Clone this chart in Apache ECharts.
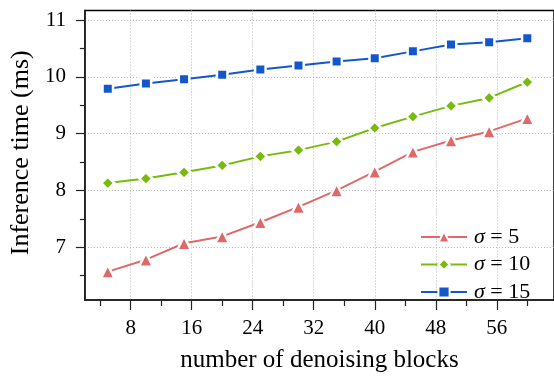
<!DOCTYPE html>
<html>
<head>
<meta charset="utf-8">
<script src="https://cdn.jsdelivr.net/npm/echarts@6/dist/echarts.min.js"></script>
<style>
html,body{margin:0;padding:0;background:#fff;}
#c{width:554px;height:378px;}
</style>
</head>
<body>
<div id="c"></div>
<script>
const blocks = [5, 10, 15, 20, 25, 30, 35, 40, 45, 50, 55, 60];
const sigma5 = [6.57, 6.78, 7.07, 7.19, 7.44, 7.71, 8.00, 8.33, 8.68, 8.88, 9.04, 9.27];
const sigma10 = [8.13, 8.21, 8.32, 8.44, 8.60, 8.71, 8.86, 9.10, 9.30, 9.49, 9.63, 9.91];
const sigma15 = [9.79, 9.885, 9.96, 10.04, 10.13, 10.20, 10.27, 10.33, 10.45, 10.57, 10.61, 10.68];
const seriesNames = ['σ = 5', 'σ = 10', 'σ = 15'];
const xMajor = [8, 16, 24, 32, 40, 48, 56];
const xMinor = [4, 12, 20, 28, 36, 44, 52, 60];
const yMajor = [7, 8, 9, 10, 11];
const yMinor = [6.5, 7.5, 8.5, 9.5, 10.5];

const FONT = '"Liberation Serif", "DejaVu Serif", serif';
const colors = ['#e06868', '#78bb0e', '#1257cc'];
const symbols = ['triangle', 'diamond', 'rect'];
const sizes = [14, 13, 10.5];
const dataSets = [sigma5, sigma10, sigma15];

const XMIN = 2, XMAX = 63.5, YMIN = 6.07, YMAX = 11.17;

const chart = echarts.init(document.getElementById('c'), null, {renderer: 'canvas'});
chart.setOption({
  animation: false,
  grid: {left: 84, right: -2, top: 10.5, bottom: 73, show: true, borderColor: '#000', borderWidth: 1.5, backgroundColor: 'transparent'},
  xAxis: [{
    type: 'value', min: XMIN, max: XMAX, position: 'bottom',
    name: 'number of denoising blocks', nameLocation: 'middle', nameGap: 48,
    nameTextStyle: {fontFamily: FONT, fontSize: 25, color: '#000'},
    axisLine: {show: true, onZero: false, lineStyle: {color: '#222', width: 1.5}},
    axisTick: {show: true, customValues: xMajor, length: 10, lineStyle: {color: '#222', width: 1.2}},
    axisLabel: {customValues: xMajor, fontFamily: FONT, fontSize: 21, color: '#000', margin: 18},
    splitLine: {show: true, lineStyle: {type: [1, 2], color: '#b4b4b4', width: 1}}
  }, {
    type: 'value', min: XMIN, max: XMAX, position: 'bottom',
    axisLine: {show: false},
    axisTick: {show: true, customValues: xMinor, length: 6, lineStyle: {color: '#222', width: 1.2}},
    axisLabel: {show: false},
    splitLine: {show: false}
  }],
  yAxis: [{
    type: 'value', min: YMIN, max: YMAX, position: 'left',
    name: 'Inference time (ms)', nameLocation: 'middle', nameGap: 46,
    nameTextStyle: {fontFamily: FONT, fontSize: 26, color: '#000', padding: [0, 0, 0, 5]},
    axisLine: {show: true, onZero: false, lineStyle: {color: '#222', width: 1.5}},
    axisTick: {show: true, customValues: yMajor, length: 9, lineStyle: {color: '#222', width: 1.2}},
    axisLabel: {customValues: yMajor, fontFamily: FONT, fontSize: 21, color: '#000', margin: 19},
    splitLine: {show: true, lineStyle: {type: [1, 2], color: '#b4b4b4', width: 1}}
  }, {
    type: 'value', min: YMIN, max: YMAX, position: 'left',
    axisLine: {show: false},
    axisTick: {show: true, customValues: yMinor, length: 5, lineStyle: {color: '#222', width: 1.2}},
    axisLabel: {show: false},
    splitLine: {show: false}
  }],
  legend: {
    orient: 'vertical', left: 415, top: 221,
    itemWidth: 46, itemHeight: 14, itemGap: 5.5,
    data: seriesNames,
    formatter: function (name) { return '{i|σ}' + name.slice(1); },
    textStyle: {fontFamily: FONT, fontSize: 22, color: '#000', lineHeight: 22, padding: [0, 0, 0, 2],
      rich: {i: {fontFamily: FONT, fontSize: 22, fontStyle: 'italic', color: '#000'}}}
  },
  series: seriesNames.map((n, i) => ({
    name: n, type: 'line', xAxisIndex: 0, yAxisIndex: 0,
    data: blocks.map((b, j) => [b, dataSets[i][j]]),
    symbol: symbols[i], symbolSize: sizes[i],
    lineStyle: {color: colors[i], width: 2},
    itemStyle: {color: colors[i], borderColor: '#fff', borderWidth: 2.5},
    emphasis: {disabled: true}
  }))
});
</script>
</body>
</html>
